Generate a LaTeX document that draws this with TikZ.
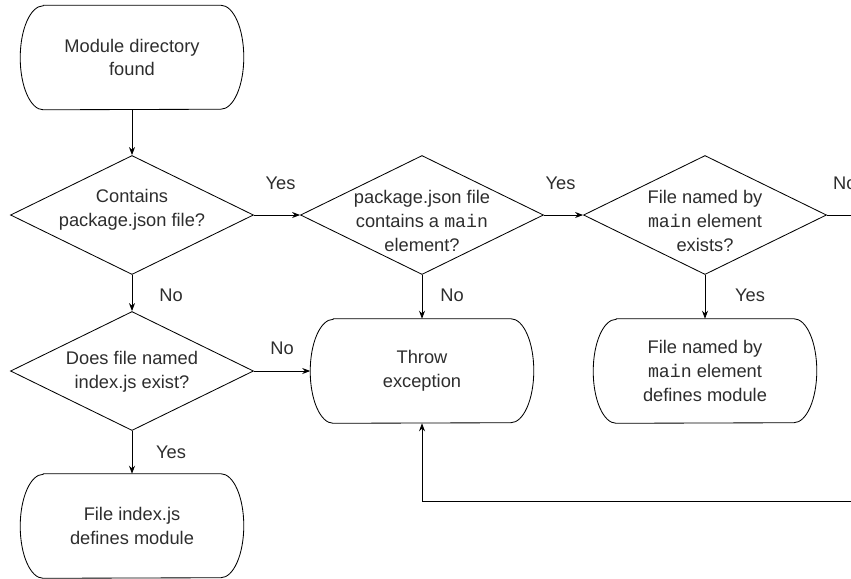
\documentclass[tikz,border=0pt]{standalone}
\usepackage{fontspec}
\setmainfont{Liberation Sans}
\setmonofont{Liberation Mono}
\usepackage{tikz}
\usetikzlibrary{shapes.geometric,arrows.meta,positioning}
\definecolor{encre}{RGB}{45,45,45}
\tikzset{
  terminal/.style={rectangle, minimum width=5.575cm, minimum height=2.6cm,
    align=center, text=encre},
  decision/.style={draw, diamond, minimum width=6.075cm, minimum height=2.975cm,
    inner sep=0pt, line width=0.6pt},
  flow/.style={-{Stealth[length=2mm,width=1.5mm]}, line width=0.6pt},
  answer/.style={text=encre}
}
% outline of a terminal node: straight top and bottom, half-ellipse ends
\newcommand{\stadium}[1]{
\draw [line width=0.6pt] ([xshift=0.575cm]#1.north west) -- ([xshift=-0.575cm]#1.north east)
  arc [start angle=90, end angle=-90, x radius=0.575cm, y radius=1.3cm]
  -- ([xshift=0.575cm]#1.south west)
  arc [start angle=270, end angle=90, x radius=0.575cm, y radius=1.3cm] -- cycle;
}

\begin{document}
\begin{tikzpicture}[font=\fontsize{13}{17}\selectfont]

\clip (0,0) rectangle (21.275,-14.45);

\node (start) [terminal] at (3.3,-1.4375) {Module directory\\found};

\node (q1) [decision, label={[align=center,answer,yshift=0.12cm]center:Contains\\package.json file?}] at (3.3,-5.375) {};
\node (q2) [decision, label={[align=center,answer,yshift=-0.15cm]center:package.json file\\contains a \texttt{main}\\element?}] at (10.55,-5.375) {};
\node (q3) [decision, label={[align=center,answer,yshift=-0.15cm]center:File named by\\\texttt{main} element\\exists?}] at (17.625,-5.375) {};
\node (q4) [decision, label={[align=center,answer,yshift=-0.03cm]center:Does file named\\index.js exist?}] at (3.3,-9.275) {};

\node (throw) [terminal] at (10.55,-9.275) {Throw\\exception};
\node (mainmod) [terminal] at (17.625,-9.275) {File named by\\\texttt{main} element\\defines module};
\node (indexmod) [terminal] at (3.3,-13.15) {File index.js\\defines module};

\stadium{start}
\stadium{throw}
\stadium{mainmod}
\stadium{indexmod}

\coordinate (loop) at (22.4,-12.525);

\path [flow]
    (start) edge (q1)
    (q1) edge node [answer, xshift=0.09cm, yshift=0.8cm] {Yes} (q2)
    (q2) edge node [answer, xshift=-0.075cm, yshift=0.8cm] {Yes} (q3)
    (q1) edge node [answer, xshift=0.975cm, yshift=-0.05cm] {No} (q4)
    (q2) edge node [answer, xshift=0.75cm, yshift=0.04cm] {No} (throw)
    (q3) edge node [answer, xshift=1.125cm, yshift=0.04cm] {Yes} (mainmod)
    (q4) edge node [answer, yshift=0.575cm] {No} (throw)
    (q4) edge node [answer, xshift=0.975cm] {Yes} (indexmod);

% the No branch of q3 comes back round under the row
\draw [flow] (q3.east) -- node [answer, pos=0.26, yshift=0.8cm] {No} (q3.east -| loop)
    -- (loop) -| (throw.south);

\end{tikzpicture}
\end{document}
